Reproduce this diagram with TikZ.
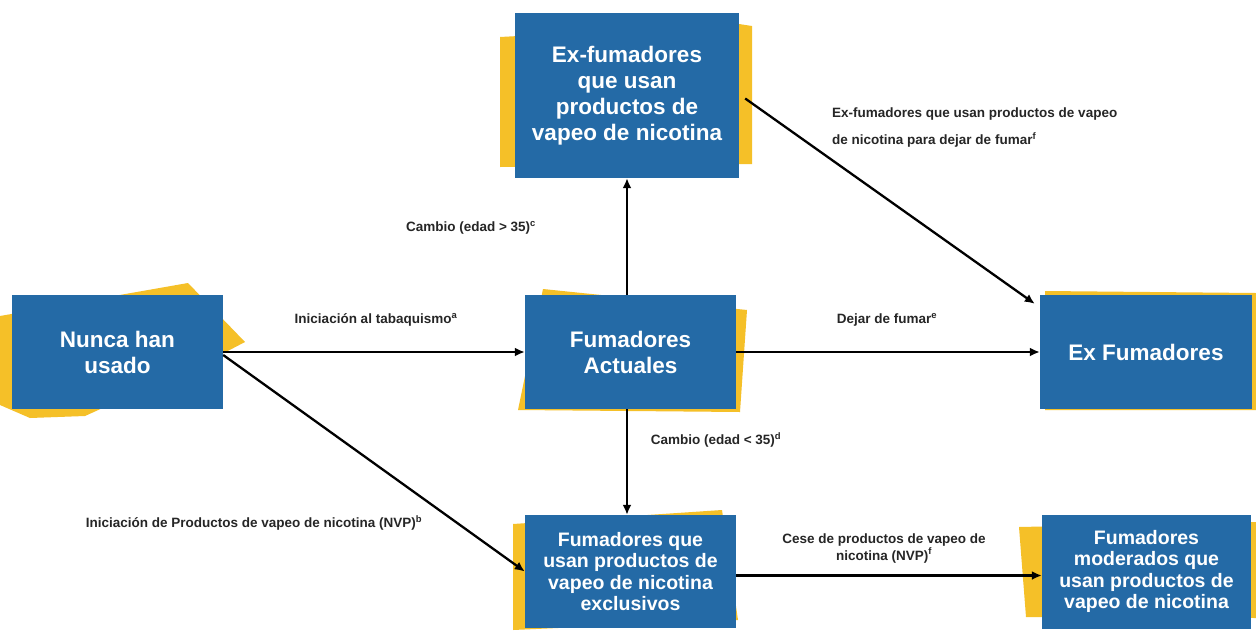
\documentclass[tikz,border=0pt]{standalone}
\usepackage{fontspec}
\setmainfont{Liberation Sans}
\usetikzlibrary{arrows.meta,calc}
\definecolor{boxblue}{RGB}{36,106,166}
\definecolor{tapeyellow}{RGB}{245,192,40}
\begin{document}
\begin{tikzpicture}[x=1pt,y=-1pt,
  bigbox/.style={fill=boxblue,draw=none,text=white,font=\bfseries\fontsize{22.5}{26}\selectfont,align=center,inner sep=0pt},
  smallbox/.style={bigbox,font=\bfseries\fontsize{19.5}{21.5}\selectfont},
  tape/.style={fill=tapeyellow,draw=none},
  lab/.style={font=\bfseries\fontsize{13.5}{17}\selectfont,inner sep=0pt,text=black!85},
  conn/.style={draw=black,line width=2.3pt,-{Latex[length=10pt,width=9pt]}}]
\fill[white] (0,0) rectangle (1256,630);
\useasboundingbox (0,0) rectangle (1256,630);
% yellow tapes
\fill[tape] (0,316) -- (188,283) -- (245,342) -- (222,354) -- (85,416) -- (30,418) -- (0,405) -- cycle;
\fill[tape] (500,37) -- (739,24) -- (752,26) -- (752,164) -- (500,167) -- cycle;
\fill[tape] (543,289) -- (747,310) -- (740,412) -- (518,410) -- cycle;
\fill[tape] (1045,291) -- (1256,293) -- (1256,410) -- (1045,410) -- cycle;
\fill[tape] (513,524) -- (722,510) -- (738,620) -- (513,630) -- cycle;
\fill[tape] (1019,527) -- (1256,522) -- (1256,618) -- (1026,617) -- cycle;
% boxes
\node[bigbox,minimum width=211pt,minimum height=114pt] (nunca) at (117.5,352) {Nunca han\\usado};
\node[bigbox,minimum width=224pt,minimum height=165pt] (exvap) at (627,95.5) {Ex-fumadores\\que usan\\productos de\\vapeo de nicotina};
\node[bigbox,minimum width=211pt,minimum height=114pt] (actual) at (630.5,352) {Fumadores\\Actuales};
\node[bigbox,minimum width=212pt,minimum height=114pt] (exfum) at (1146,352) {Ex Fumadores};
\node[smallbox,minimum width=211pt,minimum height=113pt] (excl) at (630.5,571.5) {Fumadores que\\usan productos de\\vapeo de nicotina\\exclusivos};
\node[smallbox,minimum width=209pt,minimum height=114pt] (moder) at (1146.5,571.5) {Fumadores\\moderados que\\usan productos de\\vapeo de nicotina};
\coordinate (vx) at (627,0);
% connectors
\draw[conn] (nunca.east) -- (actual.west);
\draw[conn] ([yshift=-3pt]nunca.east) -- (excl.west);
\draw[conn] (vx |- actual.north) -- (vx |- exvap.south);
\draw[conn] (vx |- actual.south) -- (vx |- excl.north);
\draw[conn] (actual.east) -- (exfum.west);
\draw[conn] ([xshift=6pt,yshift=-3pt]exvap.east) -- ([xshift=-5pt,yshift=-9pt]exfum.north west);
\draw[conn] ([yshift=-4pt]excl.east) -- ([yshift=-4pt]moder.west);
% labels
\node[lab,anchor=west,align=left,font=\bfseries\fontsize{13.5}{27}\selectfont] (l1) at (832,128) {Ex-fumadores que usan productos de vapeo\\de nicotina para dejar de fumar\textsuperscript{f}};
\node[lab] (l2) at (471,228) {Cambio (edad > 35)\textsuperscript{c}};
\node[lab] (l3) at (376,320) {Iniciación al tabaquismo\textsuperscript{a}};
\node[lab] (l4) at (887,320) {Dejar de fumar\textsuperscript{e}};
\node[lab] (l5) at (716,440) {Cambio (edad < 35)\textsuperscript{d}};
\node[lab] (l6) at (254,523) {Iniciación de Productos de vapeo de nicotina (NVP)\textsuperscript{b}};
\node[lab,align=center] (l7) at (884,548) {Cese de productos de vapeo de\\nicotina (NVP)\textsuperscript{f}};
\end{tikzpicture}
\end{document}
